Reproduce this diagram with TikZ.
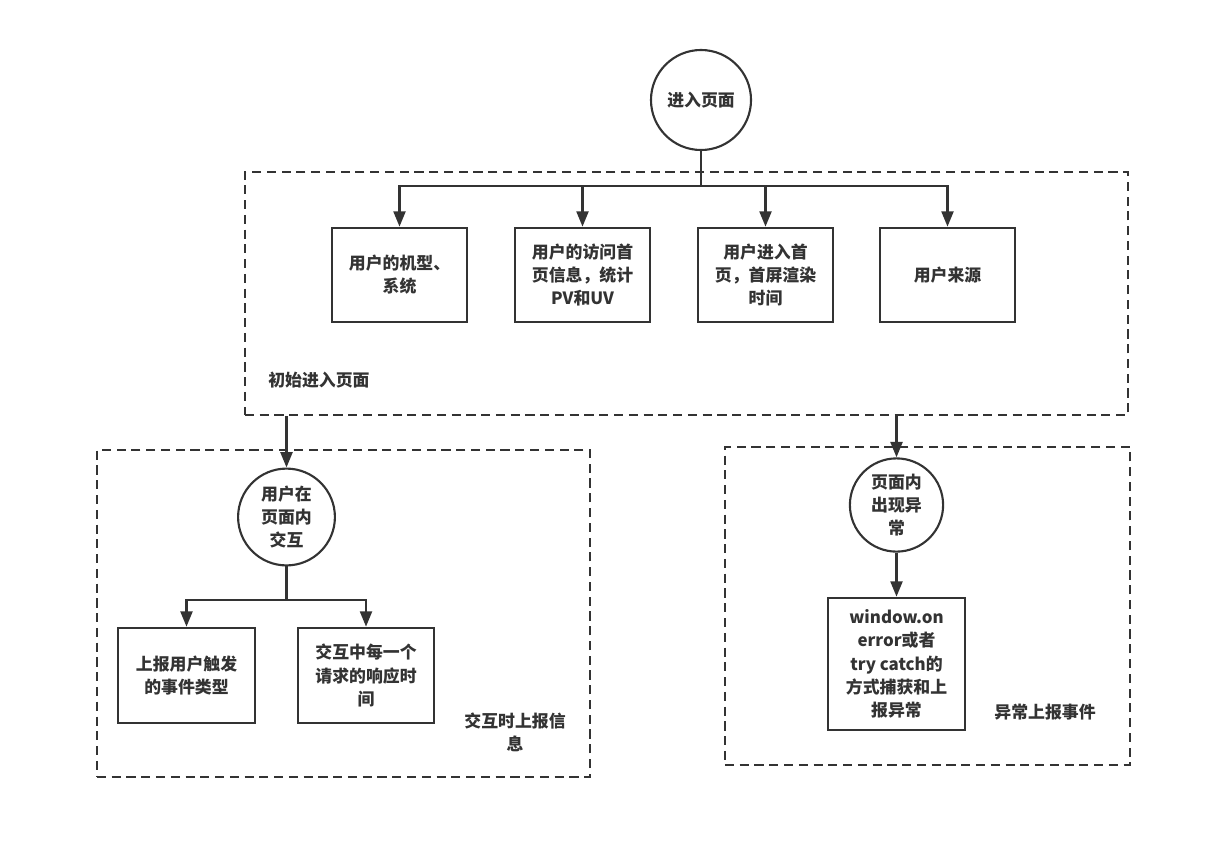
\documentclass[tikz,border=0pt]{standalone}
\usepackage{fontspec}
\setmainfont{Noto Sans CJK SC}
\usetikzlibrary{arrows.meta}
\definecolor{ink}{HTML}{333333}

\tikzset{
  stroke/.style={draw=ink, line width=1.8pt},
  flow/.style={stroke, -{Triangle[length=11pt,width=8.5pt]}},
  region/.style={draw=ink, line width=1.5pt, dash pattern=on 6.5pt off 4pt, inner sep=0pt},
  event/.style={circle, draw=ink, line width=1.5pt, align=center, inner sep=0pt, text=ink,
    font=\fontsize{12}{16.5}\selectfont\bfseries},
  report/.style={rectangle, stroke, align=center, inner sep=2pt, text=ink,
    minimum width=3.375cm, minimum height=2.35cm,
    font=\fontsize{12}{16.5}\selectfont\bfseries},
  tag/.style={text=ink, align=center, inner sep=0pt,
    font=\fontsize{12}{16.5}\selectfont\bfseries}
}

\begin{document}
\begin{tikzpicture}[x=0.025cm, y=-0.025cm]
  \useasboundingbox (0,0) rectangle (1220,842);

  % regions
  \node[region, minimum width=22.075cm, minimum height=6.075cm] (init) at (686.5,293.5) {};
  \node[region, minimum width=12.325cm, minimum height=8.175cm] (interact) at (343.5,613.5) {};
  \node[region, minimum width=10.125cm, minimum height=7.95cm] (error) at (927.5,606) {};

  % page entry
  \node[event, minimum size=2.5cm] (enter) at (701,100) {进入页面};
  \coordinate (fork) at (701,186);

  \node[report] (device) at (399.5,275) {用户的机型、\\系统};
  \node[report] (visit) at (582.5,275) {用户的访问首\\页信息，统计\\PV和UV};
  \node[report] (render) at (765.5,275) {用户进入首\\页，首屏渲染\\时间};
  \node[report] (source) at (947.5,275) {用户来源};
  \node[tag, anchor=west] (initlabel) at (268,380) {初始进入页面};

  \draw[stroke] (enter) -- (fork);
  \foreach \b in {device,visit,render,source}
    \draw[flow] (fork) -| (\b.north);

  % interaction
  \node[event, minimum size=2.42cm] (touch) at (286.5,517) {用户在\\页面内\\交互};
  \coordinate (touchfork) at (286.5,600);
  \node[report, minimum width=3.425cm, minimum height=2.375cm] (click) at (186.5,675.5) {上报用户触发\\的事件类型};
  \node[report, minimum width=3.4cm, minimum height=2.375cm] (respond) at (366,675.5) {交互中每一个\\请求的响应时\\间};
  \node[tag] (touchlabel) at (515,732) {交互时上报信\\息};

  \draw[flow] (init.south -| touch.north) -- (touch.north);
  \draw[stroke] (touch) -- (touchfork);
  \foreach \b in {click,respond}
    \draw[flow] (touchfork) -| (\b.north);

  % errors
  \node[event, minimum size=2.33cm] (fault) at (896.5,505) {页面内\\出现异\\常};
  \node[report, minimum width=3.425cm, minimum height=3.3cm] (catch) at (896.5,664)
    {window.on\\error或者\\try catch的\\方式捕获和上\\报异常};
  \node[tag] (faultlabel) at (1045,712) {异常上报事件};

  \draw[flow] (init.south -| fault.north) -- (fault.north);
  \draw[flow] (fault) -- (catch);
\end{tikzpicture}
\end{document}
